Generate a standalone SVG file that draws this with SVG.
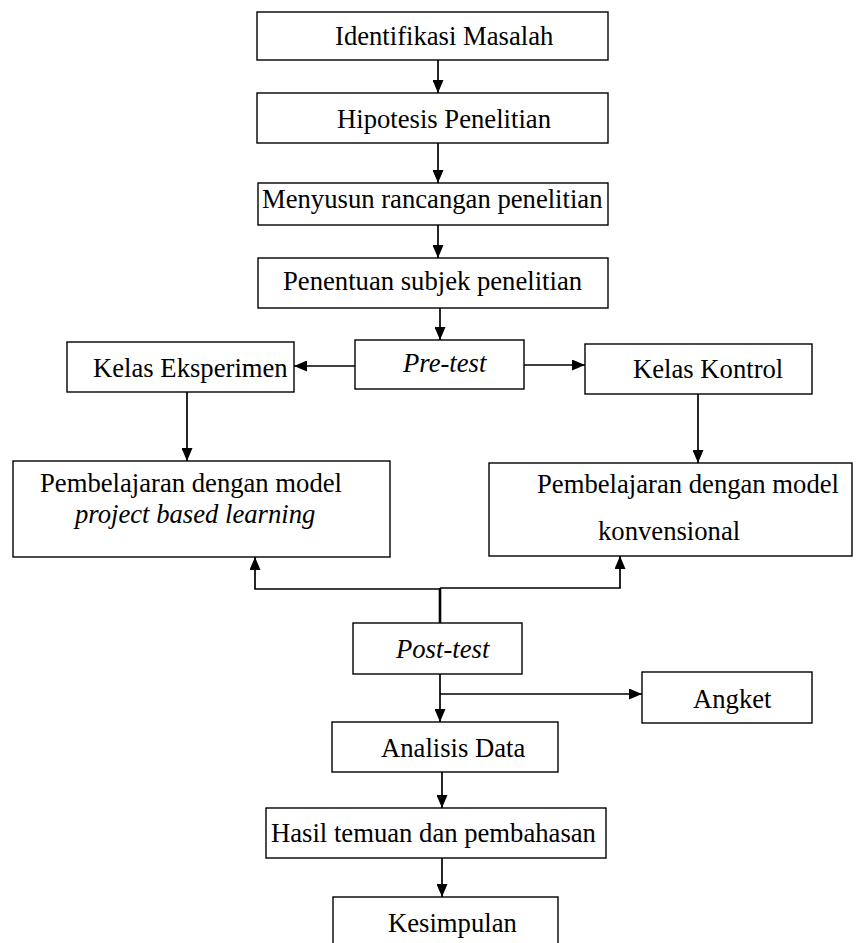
<svg xmlns="http://www.w3.org/2000/svg" width="856" height="943" viewBox="0 0 856 943">
<style>
.box{fill:#fff;stroke:#000;stroke-width:1.4}
.t{font-family:"Liberation Serif","Times New Roman",serif;font-size:26.67px;fill:#000}
.i{font-style:italic}
.c{fill:none;stroke:#000;stroke-width:1.7}
</style>
<defs>
<marker id="ah" markerUnits="userSpaceOnUse" markerWidth="13" markerHeight="11" refX="13" refY="5.5" orient="auto">
<path d="M0,0 L13,5.5 L0,11 Z" fill="#000"/>
</marker>
</defs>
<rect width="856" height="943" fill="#fff"/>
<g id="connectors">
<line class="c" x1="438" y1="60" x2="438" y2="93" marker-end="url(#ah)"/>
<line class="c" x1="438" y1="143" x2="438" y2="183" marker-end="url(#ah)"/>
<line class="c" x1="438" y1="225" x2="438" y2="258" marker-end="url(#ah)"/>
<line class="c" x1="440" y1="308" x2="440" y2="340" marker-end="url(#ah)"/>
<line class="c" x1="355" y1="366" x2="294" y2="366" marker-end="url(#ah)"/>
<line class="c" x1="524" y1="365" x2="585" y2="365" marker-end="url(#ah)"/>
<line class="c" x1="187" y1="392" x2="187" y2="461" marker-end="url(#ah)"/>
<line class="c" x1="698" y1="394" x2="698" y2="463" marker-end="url(#ah)"/>
<line class="c" x1="440" y1="623" x2="440" y2="588" style="stroke-width:2.6"/>
<polyline class="c" points="440,589 255,589 255,557" marker-end="url(#ah)"/>
<polyline class="c" points="440,588 620,588 620,556" marker-end="url(#ah)"/>
<line class="c" x1="440" y1="674" x2="440" y2="722" marker-end="url(#ah)"/>
<line class="c" x1="440" y1="694" x2="642" y2="694" marker-end="url(#ah)"/>
<line class="c" x1="442" y1="772" x2="442" y2="808" marker-end="url(#ah)"/>
<line class="c" x1="442" y1="858" x2="442" y2="897" marker-end="url(#ah)"/>
</g>
<g id="identifikasi"><rect class="box" x="257" y="12" width="351" height="48"/><text class="t" x="335" y="45">Identifikasi Masalah</text></g>
<g id="hipotesis"><rect class="box" x="257" y="93" width="351" height="50"/><text class="t" x="337" y="128">Hipotesis Penelitian</text></g>
<g id="menyusun"><rect class="box" x="258" y="183" width="350" height="42"/><text class="t" x="262" y="208">Menyusun rancangan penelitian</text></g>
<g id="penentuan"><rect class="box" x="258" y="258" width="350" height="50"/><text class="t" x="283" y="290">Penentuan subjek penelitian</text></g>
<g id="pretest"><rect class="box" x="355" y="340" width="169" height="49"/><text class="t i" x="403" y="372">Pre-test</text></g>
<g id="eksperimen"><rect class="box" x="67" y="342" width="227" height="50"/><text class="t" x="93" y="377">Kelas Eksperimen</text></g>
<g id="kontrol"><rect class="box" x="585" y="344" width="227" height="50"/><text class="t" x="633" y="378">Kelas Kontrol</text></g>
<g id="pbl"><rect class="box" x="13" y="461" width="377" height="96"/><text class="t" x="40" y="492">Pembelajaran dengan model</text><text class="t i" x="75" y="523">project based learning</text></g>
<g id="konvensional"><rect class="box" x="489" y="463" width="363" height="93"/><text class="t" x="537" y="493">Pembelajaran dengan model</text><text class="t" x="598" y="540">konvensional</text></g>
<g id="posttest"><rect class="box" x="353" y="623" width="169" height="51"/><text class="t i" x="396" y="658">Post-test</text></g>
<g id="angket"><rect class="box" x="642" y="672" width="170" height="51"/><text class="t" x="693" y="708">Angket</text></g>
<g id="analisis"><rect class="box" x="332" y="722" width="226" height="50"/><text class="t" x="381" y="757">Analisis Data</text></g>
<g id="hasil"><rect class="box" x="266" y="808" width="340" height="50"/><text class="t" x="271" y="842">Hasil temuan dan pembahasan</text></g>
<g id="kesimpulan"><rect class="box" x="333" y="897" width="225" height="60"/><text class="t" x="388" y="932">Kesimpulan</text></g>
</svg>
